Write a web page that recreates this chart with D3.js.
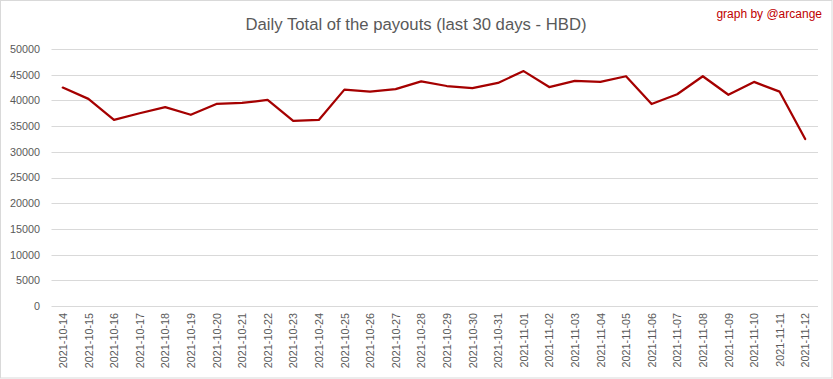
<!DOCTYPE html>
<html>
<head>
<meta charset="utf-8">
<script src="https://cdn.jsdelivr.net/npm/d3@7"></script>
<style>
  html, body { margin: 0; padding: 0; background: #fff; }
  svg { display: block; }
</style>
</head>
<body>
<svg id="chart" width="833" height="379"></svg>
<script>
const dates = ["2021-10-14","2021-10-15","2021-10-16","2021-10-17","2021-10-18","2021-10-19","2021-10-20","2021-10-21","2021-10-22","2021-10-23","2021-10-24","2021-10-25","2021-10-26","2021-10-27","2021-10-28","2021-10-29","2021-10-30","2021-10-31","2021-11-01","2021-11-02","2021-11-03","2021-11-04","2021-11-05","2021-11-06","2021-11-07","2021-11-08","2021-11-09","2021-11-10","2021-11-11","2021-11-12"];
const payouts = [42500,40300,36200,37500,38700,37200,39300,39500,40100,36000,36200,42100,41700,42200,43700,42800,42400,43400,45700,42600,43800,43600,44700,39300,41200,44700,41100,43600,41700,32500];
const yTicks = [0,5000,10000,15000,20000,25000,30000,35000,40000,45000,50000];
const title = "Daily Total of the payouts (last 30 days - HBD)";
const credit = "graph by @arcange";

const svg = d3.select("#chart");
const W = 833, H = 379;
const font = "'Liberation Sans', Arial, sans-serif";

// border
svg.append("rect").attr("x",0.5).attr("y",0.5).attr("width",W-1.5).attr("height",H-1.5)
  .attr("fill","#fff").attr("stroke","#d9d9d9").attr("stroke-width",1);

const x = d3.scalePoint().domain(dates).range([50, 818]).padding(0.5);
const y = d3.scaleLinear().domain([0, 50000]).range([306, 49]);

// gridlines
svg.append("g").selectAll("line").data(yTicks).join("line")
  .attr("x1", 51.5).attr("x2", 818)
  .attr("y1", d => Math.round(y(d)) + 0.5).attr("y2", d => Math.round(y(d)) + 0.5)
  .attr("stroke", "#d9d9d9").attr("stroke-width", 1);

// y axis labels
const yAxis = d3.axisLeft(y).tickValues(yTicks).tickSize(0).tickPadding(0).tickFormat(d3.format("d"));
const gy = svg.append("g").attr("transform","translate(40,0)").call(yAxis);
gy.select(".domain").remove();
gy.selectAll("text").attr("fill","#595959").style("font-family",font).style("font-size","10.8px");

// x axis labels
const xAxis = d3.axisBottom(x).tickSize(0).tickPadding(0);
const gx = svg.append("g").attr("transform","translate(0,306)").call(xAxis);
gx.select(".domain").remove();
gx.selectAll("text")
  .attr("fill","#595959").style("font-family",font).style("font-size","10.8px")
  .attr("text-anchor","end")
  .attr("transform","rotate(-90)")
  .attr("x",-7).attr("y",0).attr("dy","0.35em");

// line
const line = d3.line().x((d,i) => x(dates[i])).y(d => y(d));
svg.append("path").datum(payouts)
  .attr("d", line).attr("fill","none")
  .attr("stroke","#a50000").attr("stroke-width",2.25)
  .attr("stroke-linejoin","round").attr("stroke-linecap","round");

// title
svg.append("text").attr("x", 416).attr("y", 30).attr("text-anchor","middle")
  .attr("fill","#595959").style("font-family",font).style("font-size","16.7px")
  .text(title);

// credit
svg.append("text").attr("x", 822).attr("y", 18).attr("text-anchor","end")
  .attr("fill","#c00000").style("font-family",font).style("font-size","12px")
  .text(credit);
</script>
</body>
</html>
